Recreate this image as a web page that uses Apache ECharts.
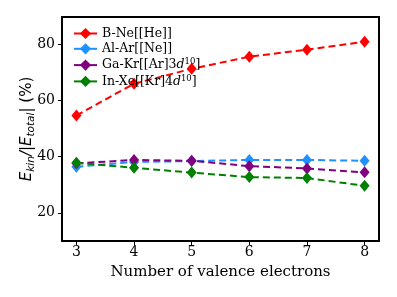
<!DOCTYPE html>
<html><head><meta charset="utf-8">
<script src="https://cdn.jsdelivr.net/npm/echarts@6/dist/echarts.min.js"></script>
<style>html,body{margin:0;padding:0;background:#fff}#c{width:397px;height:297px}</style>
</head><body><div id="c"></div>
<script>
const xValues = [3, 4, 5, 6, 7, 8];
const xTicks = [3, 4, 5, 6, 7, 8];
const yTicks = [20, 40, 60, 80];
const seriesNames = ['B-Ne[[He]]', 'Al-Ar[[Ne]]', 'Ga-Kr[[Ar]3d10]', 'In-Xe[[Kr]4d10]'];
const bNe  = [54.6, 65.9, 71.2, 75.5, 78.0, 80.8];
const alAr = [36.4, 38.1, 38.4, 38.8, 38.8, 38.5];
const gaKr = [37.6, 38.8, 38.5, 36.6, 35.8, 34.4];
const inXe = [37.8, 36.0, 34.3, 32.7, 32.4, 29.6];
const colors = ['#ff0000', '#1e90ff', '#800080', '#008000'];

const legendRich = {
  n: {fontFamily: 'DejaVu Serif', fontSize: 12.5, color: '#000', lineHeight: 15},
  i: {fontFamily: 'DejaVu Serif', fontStyle: 'italic', fontSize: 12.5, color: '#000', lineHeight: 15},
  s: {fontFamily: 'DejaVu Serif', fontSize: 8.5, color: '#000', verticalAlign: 'top', lineHeight: 8}
};
function legendFmt(name) {
  if (name === seriesNames[2]) return '{n|Ga-Kr[[Ar]3}{i|d}{s|10}{n|]}';
  if (name === seriesNames[3]) return '{n|In-Xe[[Kr]4}{i|d}{s|10}{n|]}';
  return '{n|' + name + '}';
}

const all = [bNe, alAr, gaKr, inXe];
const chart = echarts.init(document.getElementById('c'), null, {renderer: 'canvas'});
chart.setOption({
  animation: false,
  grid: {left: 62, right: 18, top: 17, bottom: 56, show: true, borderColor: '#000', borderWidth: 2, backgroundColor: '#fff'},
  legend: {
    orient: 'vertical', left: 73, top: 27, itemGap: 2.3, itemWidth: 23, itemHeight: 14,
    padding: 0,
    lineStyle: {type: 'solid', width: 2},
    textStyle: {rich: legendRich},
    formatter: legendFmt,
    data: seriesNames
  },
  xAxis: {
    type: 'value', min: 2.75, max: 8.25,
    name: 'Number of valence electrons', nameLocation: 'middle', nameGap: 24, nameMoveOverlap: false,
    nameTextStyle: {fontFamily: 'DejaVu Serif', fontSize: 15, color: '#000'},
    axisLine: {show: true, lineStyle: {color: '#000', width: 2}},
    axisTick: {show: true, customValues: xTicks, length: 4, lineStyle: {color: '#000', width: 1}},
    axisLabel: {customValues: xTicks, fontFamily: 'DejaVu Serif', fontSize: 14, color: '#000', margin: 4},
    splitLine: {show: false}
  },
  yAxis: {
    type: 'value', min: 10, max: 89.6,
    name: '{e|E}{sub|kin}{e|/|E}{sub|total}{n|| (%)}', nameLocation: 'middle', nameGap: 25, nameRotate: 90, nameMoveOverlap: false,
    nameTextStyle: {
      rich: {
        e: {fontFamily: 'DejaVu Sans', fontStyle: 'italic', fontSize: 15, color: '#000', lineHeight: 20},
        n: {fontFamily: 'DejaVu Sans', fontSize: 15, color: '#000', lineHeight: 20},
        sub: {fontFamily: 'DejaVu Sans', fontStyle: 'italic', fontSize: 10.5, color: '#000', verticalAlign: 'bottom', lineHeight: 11}
      }
    },
    axisLine: {show: true, lineStyle: {color: '#000', width: 2}},
    axisTick: {show: true, customValues: yTicks, length: 4, lineStyle: {color: '#000', width: 1}},
    axisLabel: {customValues: yTicks, fontFamily: 'DejaVu Serif', fontSize: 14, color: '#000', margin: 7},
    splitLine: {show: false}
  },
  series: all.map((vals, k) => ({
    type: 'line', name: seriesNames[k],
    data: xValues.map((x, i) => [x, vals[i]]),
    symbol: 'diamond', symbolSize: [10, 12],
    itemStyle: {color: colors[k]},
    lineStyle: {color: colors[k], width: 2, type: [7, 4]},
    z: 2 + k
  }))
});
</script></body></html>
